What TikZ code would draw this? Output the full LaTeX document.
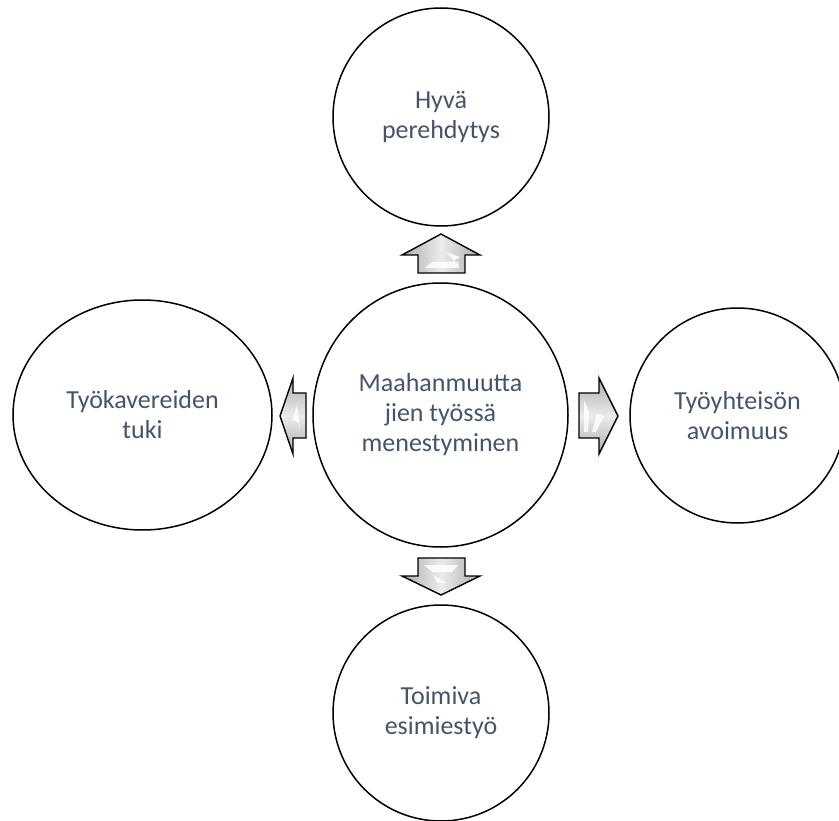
\documentclass[tikz,border=0pt]{standalone}
\usepackage{fontspec}
\setmainfont{Carlito}
\usetikzlibrary{shapes.geometric}
\definecolor{txt}{HTML}{44546A}
\begin{document}
\begin{tikzpicture}[x=1pt,y=-1pt,
  bub/.style={draw=black, line width=1.5pt, ellipse, inner sep=0pt,
    font=\fontsize{26}{30}\selectfont, text=txt, align=center},
  blkv/.style={draw=black, line width=1.4pt, line join=miter,
    left color=gray!65, right color=gray!65, middle color=gray!15},
  blkh/.style={draw=black, line width=1.4pt, line join=miter,
    top color=gray!65, bottom color=gray!65, middle color=gray!15},
  hl/.style={fill=white, draw=none, opacity=0.85}]
\useasboundingbox (0,0) rectangle (839,821);
% circles
\node[bub, minimum width=255pt, minimum height=264pt] (c) at (440.5,415) {Maahanmuutta\\jien työssä\\menestyminen};
\node[bub, minimum width=216pt, minimum height=218pt] (t) at (441,117) {Hyvä\\perehdytys};
\node[bub, minimum width=216pt, minimum height=216pt] (b) at (441,713) {Toimiva\\esimiestyö};
\node[bub, minimum width=259pt, minimum height=230pt] (l) at (142.5,415) {Työkavereiden\\tuki};
\node[bub, minimum width=215pt, minimum height=215pt] (r) at (737.5,415.5) {Työyhteisön\\avoimuus};
% up arrow
\draw[blkv] (441,234) -- (480,255) -- (465,255) -- (465,273) -- (418,273) -- (418,255) -- (402,255) -- cycle;
\fill[hl] (446,252) -- (460,257) -- (450,263) -- (455,262) -- cycle;
\fill[hl] (425,268) -- (432,262) -- (458,262) -- (459,268) -- cycle;
% down arrow
\draw[blkv] (418,558) -- (465,558) -- (465,576) -- (480,576) -- (441,595) -- (402,576) -- (418,576) -- cycle;
\fill[hl] (424,565) -- (458,565) -- (452,572) -- (432,572) -- cycle;
\fill[hl] (433,575) -- (438,583) -- (446,583) -- cycle;
% left arrow
\draw[blkh] (280,416) -- (293,378) -- (293,393) -- (306,393) -- (306,438) -- (293,438) -- (293,454) -- cycle;
\fill[hl] (297,405) -- (292,420) -- (298,422) -- (300,430) -- cycle;
% right arrow
\draw[blkh] (579,393) -- (599,393) -- (599,378) -- (618,416) -- (599,454) -- (599,438) -- (579,438) -- cycle;
\fill[hl] (584,400) -- (589,412) -- (588,432) -- (584,432) -- cycle;
\fill[hl] (597,414) -- (604,416) -- (596,432) -- (592,432) -- cycle;
\end{tikzpicture}
\end{document}
